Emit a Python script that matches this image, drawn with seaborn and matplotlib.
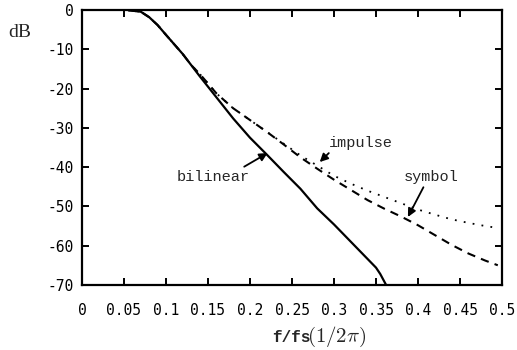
import matplotlib
matplotlib.use("Agg")
import matplotlib.pyplot as plt
import seaborn as sns
import pandas as pd

# frequency response (f/fs, dB)
freq_bilinear = [0.055, 0.07, 0.08, 0.09, 0.10, 0.12, 0.14, 0.16, 0.18, 0.20,
                 0.22, 0.24, 0.26, 0.28, 0.30, 0.32, 0.34, 0.35, 0.355, 0.362]
db_bilinear = [0, -0.4, -1.8, -3.8, -6.3, -11.2, -16.8, -22.2, -27.6, -32.5,
               -36.8, -41.2, -45.5, -50.5, -54.6, -59.0, -63.4, -65.6, -67.2, -70]

freq_symbol = [0.055, 0.07, 0.08, 0.09, 0.10, 0.12, 0.13, 0.14, 0.16, 0.18, 0.20,
               0.22, 0.24, 0.26, 0.28, 0.30, 0.32, 0.34, 0.36, 0.38, 0.40,
               0.42, 0.44, 0.46, 0.48, 0.495]
db_symbol = [0, -0.4, -1.8, -3.8, -6.3, -11.2, -14.0, -16.2, -21.2, -25.0, -28.0,
             -31.0, -34.2, -37.5, -40.4, -43.2, -45.8, -48.4, -50.6, -52.6, -54.8,
             -57.3, -59.8, -62.0, -63.8, -65.0]

freq_impulse = [0.055, 0.07, 0.08, 0.09, 0.10, 0.12, 0.13, 0.14, 0.16, 0.18, 0.20,
                0.22, 0.24, 0.26, 0.28, 0.30, 0.32, 0.34, 0.36, 0.38, 0.40,
                0.42, 0.44, 0.46, 0.48, 0.495]
db_impulse = [0, -0.4, -1.8, -3.8, -6.3, -11.2, -14.0, -16.2, -21.2, -25.0, -28.0,
              -31.0, -34.0, -37.0, -39.6, -42.2, -44.2, -46.0, -47.6, -49.2, -50.8,
              -52.1, -53.3, -54.2, -55.0, -55.5]

xticks = [0, 0.05, 0.1, 0.15, 0.2, 0.25, 0.3, 0.35, 0.4, 0.45, 0.5]
xtick_labels = ["0", "0.05", "0.1", "0.15", "0.2", "0.25", "0.3", "0.35", "0.4", "0.45", "0.5"]
yticks = [0, -10, -20, -30, -40, -50, -60, -70]

sns.set_style("ticks")
plt.rcParams["mathtext.fontset"] = "cm"

fig = plt.figure(figsize=(5.17, 3.5), dpi=100)
ax = fig.add_axes([0.1586, 0.186, 0.8124, 0.785])

bil = pd.DataFrame({"f": freq_bilinear, "dB": db_bilinear})
sym = pd.DataFrame({"f": freq_symbol, "dB": db_symbol})
imp = pd.DataFrame({"f": freq_impulse, "dB": db_impulse})

sns.lineplot(data=bil, x="f", y="dB", ax=ax, color="black", lw=1.6, sort=False)
sns.lineplot(data=sym, x="f", y="dB", ax=ax, color="black", lw=1.5, sort=False,
             linestyle=(0, (4, 3)))
sns.lineplot(data=imp, x="f", y="dB", ax=ax, color="black", lw=1.3, sort=False,
             linestyle=(0, (1, 4)))

ax.set_xlim(0, 0.5)
ax.set_ylim(-70, 0)
ax.set_xticks(xticks)
ax.set_xticklabels(xtick_labels)
ax.set_yticks(yticks)
ax.set_yticklabels([str(t) for t in yticks])

ax.tick_params(direction="in", length=5, width=1.4, top=True, right=True,
               labelsize=10.5, colors="black")
ax.tick_params(axis="x", pad=13)
ax.tick_params(axis="y", pad=6)
for lab in ax.get_xticklabels() + ax.get_yticklabels():
    lab.set_fontfamily("DejaVu Sans Mono")
for s in ax.spines.values():
    s.set_visible(True)
    s.set_linewidth(1.6)
    s.set_color("black")

ax.set_xlabel("")
ax.set_ylabel("")
# axis label: typewriter part plus math part
fig.text(272 / 517, 1 - 342 / 350, "f/fs", fontsize=11.5, fontfamily="Liberation Mono",
         fontweight="bold", ha="left", va="baseline")
fig.text(307 / 517, 1 - 342 / 350, r"$(1/2\pi)$", fontsize=15, ha="left", va="baseline")
fig.text(0.039, 0.906, "dB", fontsize=14, fontfamily="Liberation Serif",
         ha="center", va="center")

arrow = dict(arrowstyle="-|>", color="black", lw=1.3, mutation_scale=12,
             shrinkA=0, shrinkB=0)
lab_font = dict(fontsize=11, fontfamily="Liberation Mono", ha="center", va="center")
ax.annotate("bilinear", xy=(0.221, -36.4), xytext=(0.156, -42.5),
            arrowprops=dict(arrow, relpos=(0.85, 1.0)), **lab_font)
ax.annotate("impulse", xy=(0.283, -38.7), xytext=(0.332, -33.8),
            arrowprops=dict(arrow, relpos=(0.05, 0.0)), **lab_font)
ax.annotate("symbol", xy=(0.388, -52.7), xytext=(0.415, -42.5),
            arrowprops=dict(arrow, relpos=(0.4, 0.0)), **lab_font)

fig.savefig("out.png", dpi=100)
